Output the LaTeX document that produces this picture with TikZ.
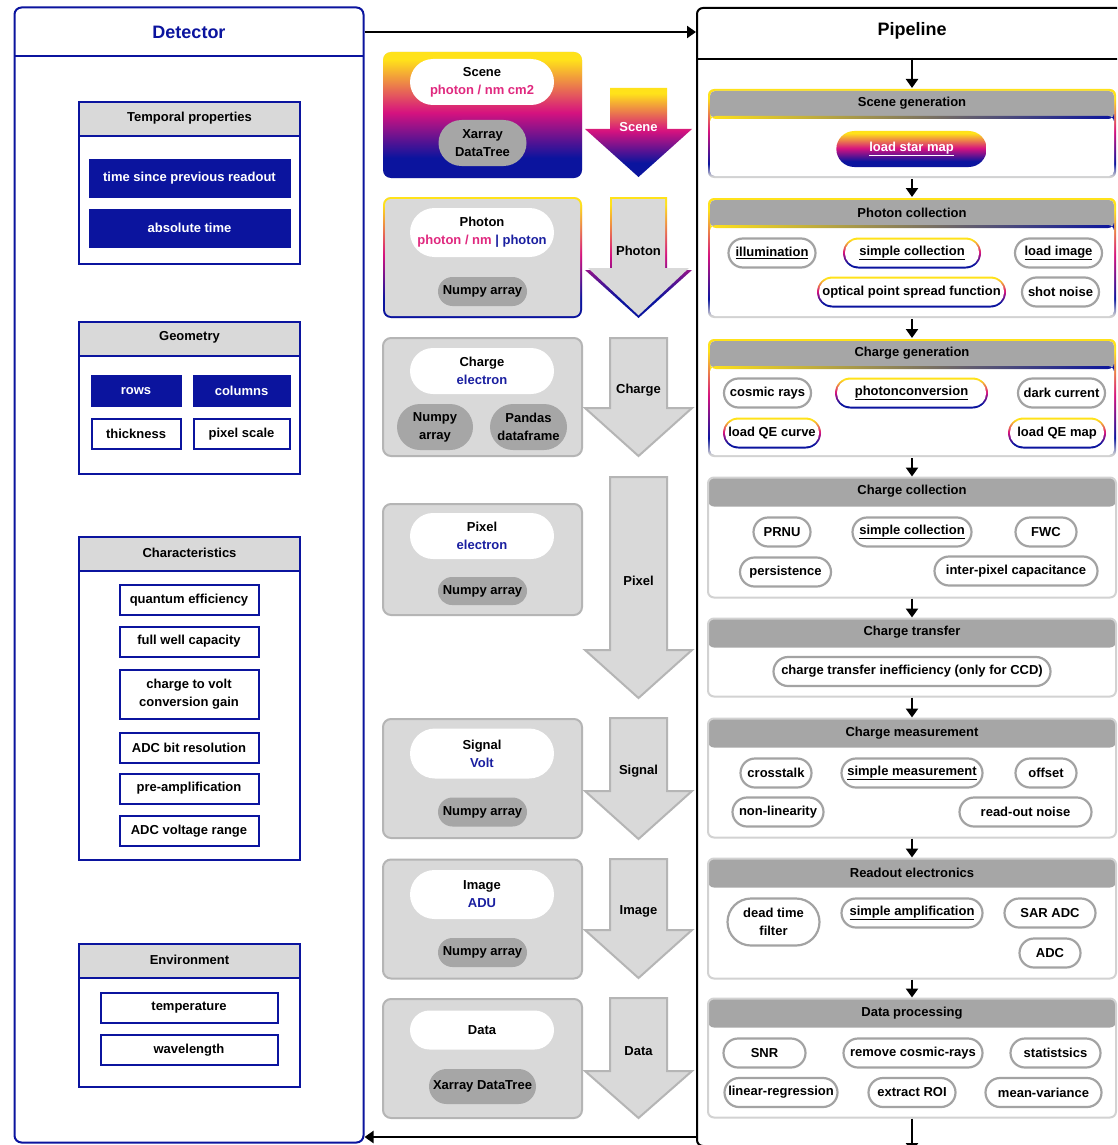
\documentclass[tikz,border=0pt]{standalone}
\usepackage{fontspec}
\setmainfont{Liberation Sans}
\usetikzlibrary{arrows.meta, calc, positioning, shapes.misc}
\definecolor{detblue}{HTML}{0B149E}
\definecolor{unitblue}{HTML}{1A1FA0}
\definecolor{unitmag}{HTML}{E0297F}
\definecolor{gyel}{HTML}{FFE21A}
\definecolor{gmag}{HTML}{D6127F}
\definecolor{gblu}{HTML}{0B149E}
\definecolor{boxgray}{HTML}{D9D9D9}
\definecolor{boxrim}{HTML}{B5B5B5}
\definecolor{headgray}{HTML}{A6A6A6}
\definecolor{rimgray}{HTML}{D2D2D2}
\definecolor{pillrim}{HTML}{A3A3A3}
\definecolor{pillgray}{HTML}{A6A6A6}

% yellow -> magenta -> blue, as used for the scene data
\pgfdeclareverticalshading{sunset}{100bp}{color(0bp)=(gblu); color(33bp)=(gblu); color(51bp)=(gmag); color(72bp)=(gyel); color(100bp)=(gyel)}
\pgfdeclareverticalshading{sunsetrim}{100bp}{color(0bp)=(rimgray); color(26bp)=(rimgray); color(33bp)=(gblu); color(51bp)=(gmag); color(70bp)=(gyel); color(100bp)=(gyel)}

\begin{document}
\begin{tikzpicture}[x=1pt, y=-1pt,
    font=\bfseries\fontsize{13}{18}\selectfont,
    flow/.style={line width=2.5pt, -{Triangle[length=9pt, width=12pt]}},
    bigtitle/.style={font=\bfseries\fontsize{18}{22}\selectfont},
    detgroup/.style={draw=detblue, line width=2pt, fill=white, minimum width=221pt, inner sep=0pt,
        path picture={\fill[boxgray] (path picture bounding box.north west) rectangle ([yshift=-34pt]path picture bounding box.north east);
            \draw[detblue, line width=2pt] ([yshift=-34pt]path picture bounding box.north west) -- ([yshift=-34pt]path picture bounding box.north east);}},
    param/.style={draw=detblue, line width=2pt, fill=white, inner sep=0pt, minimum height=30pt, align=center},
    paramset/.style={param, fill=detblue, text=white},
    databox/.style={rounded corners=8pt, fill=boxgray, draw=boxrim, line width=2pt, minimum width=199pt, inner sep=0pt},
    grimbox/.style={databox, draw=none, shade, shading=sunset,
        path picture={\fill[boxgray, rounded corners=6pt] ([shift={(2pt,2pt)}]path picture bounding box.south west) rectangle ([shift={(-2pt,-2pt)}]path picture bounding box.north east);}},
    unitpill/.style={rounded rectangle, fill=white, minimum width=148pt, inner sep=2pt, align=center},
    typepill/.style={rounded rectangle, fill=pillgray, inner sep=2pt, align=center},
    blockarrow/.style={fill=boxgray, draw=boxrim, line width=2pt},
    stage/.style={draw=rimgray, line width=2pt, fill=white, rounded corners=6pt, minimum width=408pt, inner sep=0pt,
        path picture={\fill[headgray] (path picture bounding box.north west) rectangle ([yshift=-29pt]path picture bounding box.north east);}},
    grimstage/.style={stage, draw=none, shade, shading=sunsetrim,
        path picture={
            \fill[white, rounded corners=5pt] ([shift={(2pt,2pt)}]path picture bounding box.south west) rectangle ([shift={(-2pt,-2pt)}]path picture bounding box.north east);
            \begin{scope}
                \clip[rounded corners=5pt] ([shift={(2pt,2pt)}]path picture bounding box.south west) rectangle ([shift={(-2pt,-2pt)}]path picture bounding box.north east);
                \fill[headgray] (path picture bounding box.north west) rectangle ([yshift=-28pt]path picture bounding box.north east);
            \end{scope}
            \shade[left color=gyel, middle color=gmag, right color=gblu] ([shift={(2pt,-27pt)}]path picture bounding box.north west) rectangle ([shift={(-2pt,-30pt)}]path picture bounding box.north east);}},
    modpill/.style={rounded rectangle, draw=pillrim, line width=2.2pt, fill=white, minimum height=29pt, inner sep=1pt, align=center},
    gradpill/.style={rounded rectangle, minimum height=31pt, inner sep=1pt, align=center, shade, shading=sunset,
        path picture={\fill[white, rounded corners=13pt] ([shift={(2pt,2pt)}]path picture bounding box.south west) rectangle ([shift={(-2pt,-2pt)}]path picture bounding box.north east);}}]

    \clip (0,0) rectangle (1117,1145);
    \fill[white] (0,0) rectangle (1117,1145);

    % detector side
    \node[draw=detblue, line width=2pt, rounded corners=7pt, minimum width=349pt, minimum height=1135pt, inner sep=0pt,
        path picture={\draw[detblue, line width=2pt] ([yshift=-49pt]path picture bounding box.north west) -- ([yshift=-49pt]path picture bounding box.north east);}] (det) at (189,575) {};
    \node[bigtitle, text=detblue] (dettitle) at (189,32) {Detector};

    \node[detgroup, minimum height=162pt] (temporal) at (189.5,183) {};
    \node (temporalt) at (189.5,118) {Temporal properties};
    \node[paramset, minimum width=200pt, minimum height=37pt] (tprev) at (189.5,178) {time since previous readout};
    \node[paramset, minimum width=200pt, minimum height=37pt] (tabs) at (189.5,228) {absolute time};

    \node[detgroup, minimum height=152pt] (geometry) at (189.5,398) {};
    \node (geometryt) at (189.5,337.5) {Geometry};
    \node[paramset, minimum width=89pt] (rows) at (136,391) {rows};
    \node[paramset, minimum width=96pt] (columns) at (241.5,391) {columns};
    \node[param, minimum width=89pt] (thickness) at (136,434) {thickness};
    \node[param, minimum width=96pt] (pixscale) at (241.5,434) {pixel scale};

    \node[detgroup, minimum height=323pt] (charact) at (189.5,698.5) {};
    \node (charactt) at (189.5,552.5) {Characteristics};
    \node[param, minimum width=139pt] (qe) at (189,600) {quantum efficiency};
    \node[param, minimum width=139pt] (fwc) at (189,641.5) {full well capacity};
    \node[param, minimum width=139pt, minimum height=49pt] (cvgain) at (189,694) {charge to volt\\conversion gain};
    \node[param, minimum width=139pt] (adcbits) at (189,747.5) {ADC bit resolution};
    \node[param, minimum width=139pt] (preamp) at (189,788.5) {pre-amplification};
    \node[param, minimum width=139pt] (adcrange) at (189,831) {ADC voltage range};

    \node[detgroup, minimum height=143pt] (environ) at (189.5,1015) {};
    \node (environt) at (189.5,959.5) {Environment};
    \node[param, minimum width=177pt] (temperature) at (189,1008) {temperature};
    \node[param, minimum width=177pt] (wavelength) at (189,1050) {wavelength};

    % pipeline side
    \node[draw, line width=2pt, rounded corners=6pt, minimum width=440pt, minimum height=1138pt, inner sep=0pt, anchor=north west,
        path picture={\draw[line width=2pt] ([yshift=-51pt]path picture bounding box.north west) -- ([yshift=-51pt]path picture bounding box.north east);}] (pipe) at (696,7) {};
    \node[bigtitle] (pipetitle) at (912,31) {Pipeline};
    \coordinate (pipesep) at (912,58);
    \coordinate (pipeend) at (912,1152);

    \node[grimstage, minimum height=89pt] (sgen) at (912,133.5) {};
    \node (sgent) at (912,103) {Scene generation};
    \node[rounded rectangle, shade, shading=sunset, text=white, minimum width=157pt, minimum height=36pt] (starmap) at (911.5,149) {\underline{load star map}};

    \node[grimstage, minimum height=120pt] (pcol) at (912,258) {};
    \node (pcolt) at (912,213) {Photon collection};
    \node[modpill, minimum width=89pt] (illum) at (772,253) {\underline{illumination}};
    \node[gradpill, minimum width=140pt] (simcol) at (912,253) {\underline{simple collection}};
    \node[modpill, minimum width=89pt] (loadimg) at (1058.5,253) {\underline{load image}};
    \node[gradpill, minimum width=191pt] (psf) at (911.5,292) {optical point spread function};
    \node[modpill, minimum width=79pt] (shotnoise) at (1060.5,292) {shot noise};

    \node[grimstage, minimum height=118pt] (cgen) at (912,398) {};
    \node (cgent) at (912,353) {Charge generation};
    \node[modpill, minimum width=89pt] (cosmic) at (767.5,393) {cosmic rays};
    \node[gradpill, minimum width=155pt] (photoconv) at (911.5,393) {\underline{photonconversion}};
    \node[modpill, minimum width=89pt] (darkcur) at (1061.5,393) {dark current};
    \node[gradpill, minimum width=100pt] (qecurve) at (772,433) {load QE curve};
    \node[gradpill, minimum width=100pt] (qemap) at (1057,433) {load QE map};

    \node[stage, minimum height=120pt] (ccol) at (912,537.5) {};
    \node (ccolt) at (912,491) {Charge collection};
    \node[modpill, minimum width=59pt] (prnu) at (782,532) {PRNU};
    \node[modpill, minimum width=121pt] (simcoltwo) at (912,532) {\underline{simple collection}};
    \node[modpill, minimum width=63pt] (fwcpill) at (1046,532) {FWC};
    \node[modpill, minimum width=93pt] (persist) at (785.5,572) {persistence};
    \node[modpill, minimum width=165pt] (ipc) at (1016,571) {inter-pixel capacitance};

    \node[stage, minimum height=78pt] (ctra) at (912,657.5) {};
    \node (ctrat) at (912,632) {Charge transfer};
    \node[modpill, minimum width=279pt] (cti) at (912,671.5) {charge transfer inefficiency (only for CCD)};

    \node[stage, minimum height=119pt] (cmea) at (912,778) {};
    \node (cmeat) at (912,733) {Charge measurement};
    \node[modpill, minimum width=73pt] (xtalk) at (776,773) {crosstalk};
    \node[modpill, minimum width=143pt] (simmeas) at (912,773) {\underline{simple measurement}};
    \node[modpill, minimum width=63pt] (offset) at (1046,773) {offset};
    \node[modpill, minimum width=93pt] (nonlin) at (778,812) {non-linearity};
    \node[modpill, minimum width=134pt] (readnoise) at (1025.5,812) {read-out noise};

    \node[stage, minimum height=120pt] (rele) at (912,918.5) {};
    \node (relet) at (912,873) {Readout electronics};
    \node[modpill, minimum width=94pt, minimum height=47pt] (deadtime) at (773.5,922) {dead time\\filter};
    \node[modpill, minimum width=143pt] (simamp) at (912,913) {\underline{simple amplification}};
    \node[modpill, minimum width=93pt] (saradc) at (1050,913) {SAR ADC};
    \node[modpill, minimum width=63pt] (adc) at (1050,953) {ADC};

    \node[stage, minimum height=119pt] (dpro) at (912,1058) {};
    \node (dprot) at (912,1013) {Data processing};
    \node[modpill, minimum width=84pt] (snr) at (764.5,1053) {SNR};
    \node[modpill, minimum width=141pt] (rmcosmic) at (913,1053) {remove cosmic-rays};
    \node[modpill, minimum width=92pt] (stats) at (1055.5,1053) {statistsics};
    \node[modpill, minimum width=115pt] (linreg) at (781,1092.5) {linear-regression};
    \node[modpill, minimum width=89pt] (roi) at (912,1092.5) {extract ROI};
    \node[modpill, minimum width=118pt] (meanvar) at (1043.5,1092.5) {mean-variance};

    \draw[flow] (pipesep) -- (sgen.north);
    \foreach \a/\b in {sgen/pcol, pcol/cgen, cgen/ccol, ccol/ctra, ctra/cmea, cmea/rele, rele/dpro}
        \draw[flow] (\a.south) -- (\b.north);
    \draw[flow] (dpro.south) -- (pipeend);

    % detector <-> pipeline
    \coordinate (backline) at (530,1137);
    \draw[flow] (det.east |- dettitle) -- (pipe.west |- dettitle);
    \draw[flow] (pipe.west |- backline) -- (det.east |- backline);

    % data containers
    \node[databox, draw=none, shade, shading=sunset, minimum height=126pt] (scenebox) at (482.5,115) {};
    \node[unitpill, minimum height=46pt] (sceneunit) at (482,82) {Scene\\{\color{unitmag}photon / nm cm2}};
    \node[typepill, minimum width=92pt, minimum height=46pt] (scenetype) at (482.5,143) {Xarray\\DataTree};

    \node[grimbox, minimum height=121pt] (photonbox) at (482.5,257.5) {};
    \node[unitpill, minimum height=49pt] (photonunit) at (482,232.5) {Photon\\{\color{unitmag}photon / nm} {\color{unitblue}| photon}};
    \node[typepill, minimum width=93pt, minimum height=29pt] (photontype) at (482.5,291.5) {Numpy array};

    \node[databox, minimum height=118pt] (chargebox) at (482.5,397) {};
    \node[unitpill, minimum height=46pt] (chargeunit) at (482,371) {Charge\\{\color{unitblue}electron}};
    \node[typepill, minimum width=80pt, minimum height=46pt] (chargenp) at (435,427) {Numpy\\array};
    \node[typepill, minimum width=81pt, minimum height=46pt] (chargepd) at (528.5,427) {Pandas\\dataframe};

    \node[databox, minimum height=111pt] (pixelbox) at (482.5,559.5) {};
    \node[unitpill, minimum height=46pt] (pixelunit) at (482,536) {Pixel\\{\color{unitblue}electron}};
    \node[typepill, minimum width=93pt, minimum height=28pt] (pixeltype) at (482.5,591) {Numpy array};

    \node[databox, minimum height=119pt] (signalbox) at (482.5,778.5) {};
    \node[unitpill, minimum height=50pt] (signalunit) at (482,753.5) {Signal\\{\color{unitblue}Volt}};
    \node[typepill, minimum width=93pt, minimum height=29pt] (signaltype) at (482.5,812) {Numpy array};

    \node[databox, minimum height=119pt] (imagebox) at (482.5,919) {};
    \node[unitpill, minimum height=49pt] (imageunit) at (482,894.5) {Image\\{\color{unitblue}ADU}};
    \node[typepill, minimum width=93pt, minimum height=29pt] (imagetype) at (482.5,952.5) {Numpy array};

    \node[databox, minimum height=119pt] (databox) at (482.5,1058.5) {};
    \node[unitpill, minimum height=39pt] (dataunit) at (482,1030) {Data};
    \node[typepill, minimum width=111pt, minimum height=35pt] (datatype) at (482.5,1086.5) {Xarray DataTree};

    % block arrows between containers
    \shade[shading=sunset] (610,88) -- (667,88) -- (667,129) -- (692,129) -- (638.5,177) -- (585,129) -- (610,129) -- cycle;
    \node[text=white] (arrScene) at (638.5,127) {Scene};
    \shade[shading=sunset] (610,197) -- (667,197) -- (667,270) -- (692,270) -- (638.5,318) -- (585,270) -- (610,270) -- cycle;
    \fill[boxgray] (612,199) -- (665,199) -- (665,268) -- (689,268) -- (638.5,315.3) -- (588,268) -- (612,268) -- cycle;
    \node (arrPhoton) at (638.5,251) {Photon};
    \foreach \stagelab/\ytop/\ysh/\ytip in {Charge/338/408/456, Pixel/477/650/698, Signal/718/791/839, Image/859/930/978, Data/998/1071/1118}{
        \draw[blockarrow] (610,\ytop) -- (667,\ytop) -- (667,\ysh) -- (692,\ysh) -- (638.5,\ytip) -- (585,\ysh) -- (610,\ysh) -- cycle;
        \node (arr\stagelab) at (638.5,{(\ytop+\ytip)/2-7}) {\stagelab};
    }
\end{tikzpicture}
\end{document}
